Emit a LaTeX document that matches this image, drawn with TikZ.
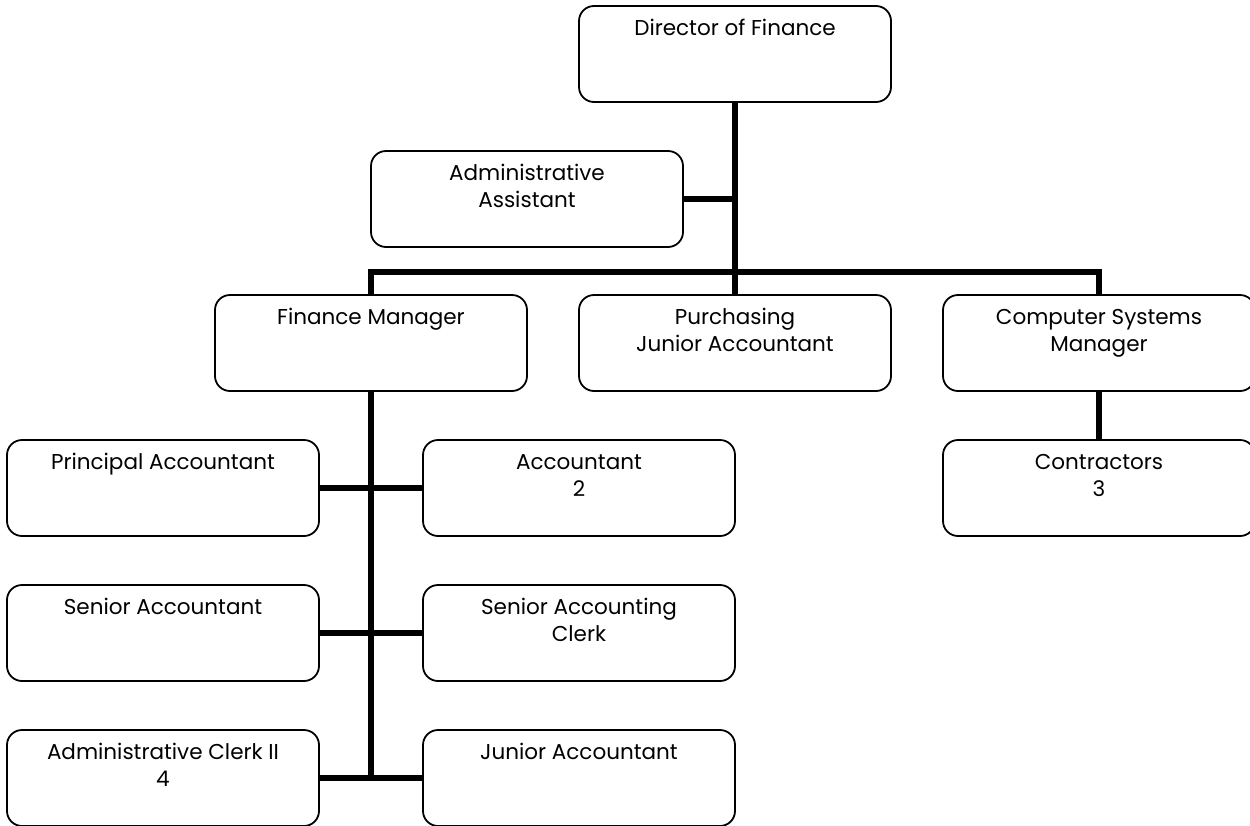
\documentclass[tikz,border=0pt]{standalone}
\usepackage{fontspec}
\setmainfont{Poppins}
\begin{document}
\begin{tikzpicture}[x=1pt,y=-1pt,
  orgbox/.style={draw, line width=1.8pt, rounded corners=15pt,
    minimum width=312pt, minimum height=96pt, inner sep=0pt, fill=white},
  wire/.style={line width=5.5pt}]
\newcommand\boxtext[1]{\parbox[c][90pt][t]{306pt}{\centering
  \fontsize{21.5}{27}\selectfont\rule{0pt}{26pt}#1\par}}
\useasboundingbox (0,0) rectangle (1250,825);

% top level
\node[orgbox] (dir) at (735,54)  {\boxtext{Director of Finance}};
\node[orgbox] (aa)  at (527,199) {\boxtext{Administrative\\Assistant}};

% second level
\node[orgbox] (fm)  at (371,343)  {\boxtext{Finance Manager}};
\node[orgbox] (pur) at (735,343)  {\boxtext{Purchasing\\Junior Accountant}};
\node[orgbox] (csm) at (1099,343) {\boxtext{Computer Systems\\Manager}};
\node[orgbox] (con) at (1099,488) {\boxtext{Contractors\\3}};

% finance staff
\node[orgbox] (pa)  at (163,488) {\boxtext{Principal Accountant}};
\node[orgbox] (acc) at (579,488) {\boxtext{Accountant\\2}};
\node[orgbox] (sa)  at (163,633) {\boxtext{Senior Accountant}};
\node[orgbox] (sac) at (579,633) {\boxtext{Senior Accounting\\Clerk}};
\node[orgbox] (ac)  at (163,778) {\boxtext{Administrative Clerk II\\4}};
\node[orgbox] (ja)  at (579,778) {\boxtext{Junior Accountant}};

% connectors
\coordinate (bus) at (735,272);
\draw[wire] (dir.south) -- (pur.north);
\draw[wire] (aa.east) -- (aa.east -| dir.south);
\draw[wire] (fm.north) |- (bus) -| (csm.north);
\draw[wire] (csm.south) -- (con.north);
\draw[wire] (fm.south) -- (fm.south |- ac.east);
\draw[wire] (pa.east) -- (acc.west);
\draw[wire] (sa.east) -- (sac.west);
\draw[wire] (ac.east) -- (ja.west);
\end{tikzpicture}
\end{document}
